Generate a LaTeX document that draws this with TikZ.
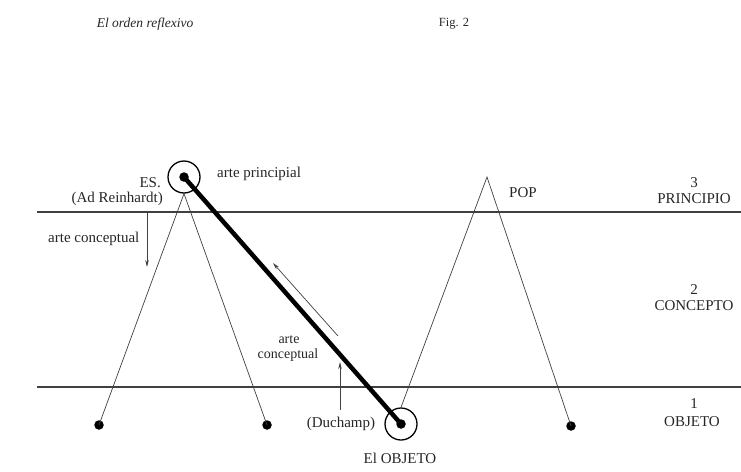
\documentclass[tikz,border=0pt]{standalone}
\usepackage{fontspec}
\setmainfont{Liberation Serif}
\usetikzlibrary{arrows.meta}
\begin{document}
\begin{tikzpicture}[x=1pt,y=-1pt,
  dot/.style={circle,fill=black,inner sep=0pt,minimum size=9.5pt},
  ring/.style={circle,draw=black,line width=1.3pt,inner sep=0pt,minimum size=32pt},
  thin/.style={draw=black!75,line width=0.7pt},
  level/.style={draw=black!75,line width=1.2pt},
  lbl/.style={font=\fontsize{15}{16}\selectfont,inner sep=0pt,text=black!85},
  arr/.style={draw=black!75,line width=0.7pt,-{Stealth[length=7pt,width=3.5pt]}}]
\useasboundingbox (0,0) rectangle (741,471);
% titles
\node[lbl,font=\fontsize{13.5}{15}\selectfont\itshape] (title) at (145,24) {El orden reflexivo};
\node[lbl,font=\fontsize{12.5}{14}\selectfont] (fig) at (454,24) {Fig. 2};
% level lines
\coordinate (l3a) at (37,212); \coordinate (l3b) at (741,212);
\coordinate (l1a) at (37,387); \coordinate (l1b) at (741,387);
\draw[level] (l3a) -- (l3b);
\draw[level] (l1a) -- (l1b);
% points
\node[dot] (es) at (184,177) {};
\node[ring] (esring) at (184,177) {};
\node[dot] (obj) at (401,424) {};
\node[ring] (objring) at (401,424) {};
\node[dot] (d1) at (99,425) {};
\node[dot] (d2) at (267,425) {};
\node[dot] (d3) at (571,426) {};
\coordinate (pop) at (487,177);
% triangles
\draw[thin] (esring.south) -- (d1.center);
\draw[thin] (esring.south) -- (d2.center);
\draw[thin] (objring.north) -- (pop) -- (d3.center);
% thick line
\draw[line width=4.5pt] (es.center) -- (obj.center);
% arrows
\coordinate (a1s) at (147,211); \coordinate (a1e) at (147,267);
\draw[arr] (a1s) -- (a1e);
\coordinate (a2s) at (338,336); \coordinate (a2e) at (273,263);
\draw[arr] (a2s) -- (a2e);
\coordinate (a3s) at (340,410); \coordinate (a3e) at (340,362);
\draw[arr] (a3s) -- (a3e);
% labels
\node[lbl,anchor=east] (esl) at (161,183) {ES.};
\node[lbl,anchor=east] (ad) at (163,199) {(Ad Reinhardt)};
\node[lbl,anchor=west] (ap) at (217,174) {arte principial};
\node[lbl,anchor=west] (ac) at (48,239) {arte conceptual};
\node[lbl,font=\fontsize{14}{15}\selectfont] (ac2a) at (289,340) {arte};
\node[lbl,font=\fontsize{14}{15}\selectfont] (ac2b) at (288,355) {conceptual};
\node[lbl] (duch) at (341,424) {(Duchamp)};
\node[lbl] (elobj) at (400,458) {El OBJETO};
\node[lbl] (popl) at (523,193) {POP};
\node[lbl] (n3) at (694,183) {3};
\node[lbl] (prin) at (694,199) {PRINCIPIO};
\node[lbl] (n2) at (694,290) {2};
\node[lbl] (conc) at (694,306) {CONCEPTO};
\node[lbl] (n1) at (694,404) {1};
\node[lbl] (objl) at (692,422) {OBJETO};
\end{tikzpicture}
\end{document}
